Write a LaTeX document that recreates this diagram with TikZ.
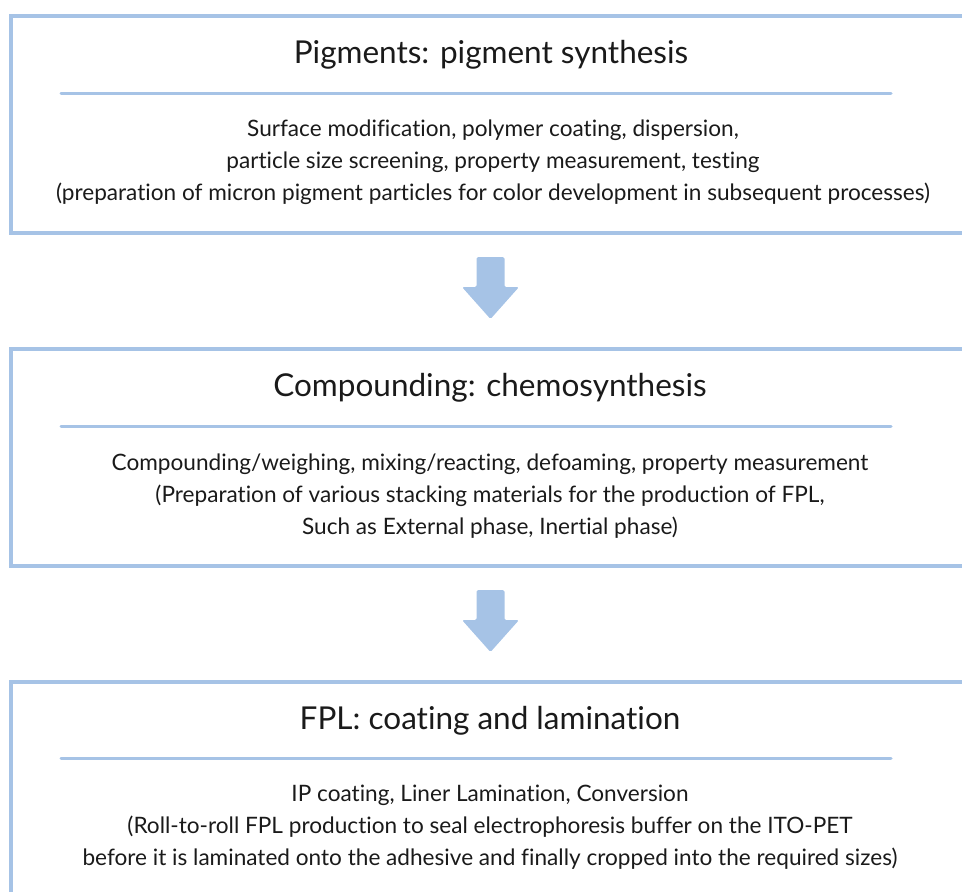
\documentclass[tikz,border=0pt]{standalone}
\usepackage{fontspec}
\setmainfont{Lato}[Ligatures=NoCommon]
\definecolor{bl}{HTML}{A6C3E6}
\definecolor{tx}{HTML}{1A1A1A}
\begin{document}
\begin{tikzpicture}[x=1pt,y=-1pt,
  box/.style={draw=bl, line width=3.5pt, minimum width=975pt, minimum height=217pt, anchor=north west, inner sep=0pt},
  divider/.style={draw=bl, line width=3pt, line cap=round},
  ttl/.style={text=tx, font=\fontsize{31.5}{36}\selectfont, inner sep=0pt},
  body/.style={text=tx, font=\fontsize{22.6}{32}\selectfont, align=center, inner sep=0pt},
  downarrow/.style={fill=bl, draw=none, rounded corners=1.5pt}
]
\useasboundingbox (0,0) rectangle (962,892);
\node[box] (b1) at (9,14) {};
\node[box] (b2) at (9,347) {};
\node[box] (b3) at (9,680) {};
\draw[divider] (61,93) coordinate (d1a) -- (891,93) coordinate (d1b);
\draw[divider] (61,426) coordinate (d2a) -- (891,426) coordinate (d2b);
\draw[divider] (61,758) coordinate (d3a) -- (891,758) coordinate (d3b);
\node[ttl] (t1) at (491,55) {Pigments: pigment synthesis};
\node[ttl] (t2) at (490,388) {Compounding: chemosynthesis};
\node[ttl] (t3) at (490,721) {FPL: coating and lamination};
\node[body] (x1) at (493,162) {Surface modification, polymer coating, dispersion,\\particle size screening, property measurement, testing\\(preparation of micron pigment particles for color development in subsequent processes)};
\node[body] (x2) at (490,496) {Compounding/weighing, mixing/reacting, defoaming, property measurement\\(Preparation of various stacking materials for the production of FPL,\\Such as External phase, Inertial phase)};
\node[body] (x3) at (490,827) {IP coating, Liner Lamination, Conversion\\(Roll-to-roll FPL production to seal electrophoresis buffer on the ITO-PET\\before it is laminated onto the adhesive and finally cropped into the required sizes)};
\coordinate (a1) at (490.5,257);
\coordinate (a2) at (490.5,590);
\fill[downarrow, shift={(a1)}] (-14,0) -- (14,0) -- (14,30) -- (28.5,30) -- (0,62) -- (-28.5,30) -- (-14,30) -- cycle;
\fill[downarrow, shift={(a2)}] (-14,0) -- (14,0) -- (14,30) -- (28.5,30) -- (0,62) -- (-28.5,30) -- (-14,30) -- cycle;
\end{tikzpicture}
\end{document}
